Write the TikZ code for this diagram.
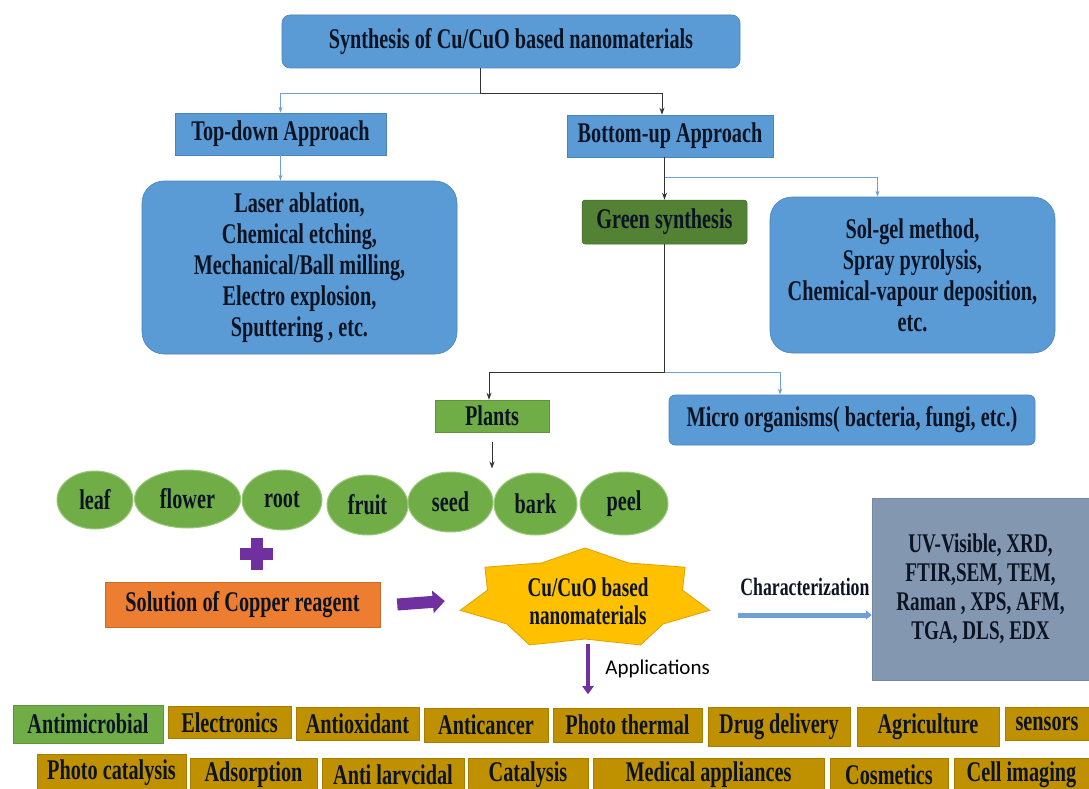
\documentclass[tikz,border=0pt]{standalone}
\usepackage{fontspec}
\setmainfont{Liberation Serif}[FakeStretch=0.71]
\newfontfamily\appfont{Carlito}
\usetikzlibrary{arrows.meta,shapes.geometric}
\definecolor{bx}{HTML}{5B9BD5}
\definecolor{bxd}{HTML}{4A84BE}
\definecolor{gdark}{HTML}{548235}
\definecolor{glight}{HTML}{70AD47}
\definecolor{gedge}{HTML}{9CC97E}
\definecolor{org}{HTML}{ED7D31}
\definecolor{gold}{HTML}{BF9000}
\definecolor{golde}{HTML}{A67D00}
\definecolor{gry}{HTML}{8497B0}
\definecolor{stary}{HTML}{FFC000}
\definecolor{stard}{HTML}{E0A000}
\definecolor{purp}{HTML}{7030A0}
\definecolor{txt}{HTML}{0C1424}
\definecolor{lnk}{HTML}{333333}
\definecolor{lblue}{HTML}{6FA0D6}
\tikzset{
  base/.style={font=\bfseries\fontsize{28.5}{31}\selectfont, text=txt, inner sep=0pt, align=center},
  bbox/.style={base, rectangle, fill=bx, draw=bxd, line width=0.6pt},
  rbox/.style={bbox, rounded corners=22pt},
  gbox/.style={base, rectangle, fill=gdark, draw=gdark!80!black, line width=0.5pt, rounded corners=3pt},
  pbox/.style={base, rectangle, fill=glight, draw=glight!85!black, line width=0.5pt},
  obox/.style={base, rectangle, fill=org, draw=org!85!black, line width=0.5pt},
  abox/.style={base, rectangle, fill=gold, draw=golde, line width=0.5pt, minimum height=34pt},
  agbox/.style={base, rectangle, fill=glight, draw=glight!85!black, line width=0.5pt},
  ybox/.style={base, rectangle, fill=gry, draw=gry!90!black, line width=0.5pt, font=\bfseries\fontsize{27}{29}\selectfont},
  part/.style={base, ellipse, fill=glight, draw=gedge, line width=1pt},
  blk/.style={draw=lnk, line width=0.9pt, -{Stealth[length=7pt,width=5pt]}},
  bln/.style={draw=lblue, line width=0.8pt, -{Stealth[length=6pt,width=4pt]}},
  starsty/.style={fill=stary, draw=stard, line width=0.8pt},
  startext/.style={base, font=\bfseries\fontsize{27}{28}\selectfont, minimum width=200pt, minimum height=86pt},
}
\begin{document}
\begin{tikzpicture}[x=1pt,y=-1pt]
\useasboundingbox (0,0) rectangle (1089,789);
\fill[white] (0,0) rectangle (1089,789);

% top level
\node[bbox, rounded corners=8pt, minimum width=458pt, minimum height=53pt] (title) at (511,41.5) {Synthesis of Cu/CuO based nanomaterials};
\node[bbox, minimum width=211pt, minimum height=42pt] (td) at (280.5,134) {Top-down Approach};
\node[bbox, minimum width=206pt, minimum height=42pt] (bu) at (670,136) {Bottom-up Approach};
\node[rbox, minimum width=315pt, minimum height=173pt] (lb) at (299.5,267.5) {Laser ablation,\\Chemical etching,\\Mechanical/Ball milling,\\Electro explosion,\\Sputtering , etc.};
\node[gbox, minimum width=165pt, minimum height=44pt] (gs) at (664.5,222) {Green synthesis};
\node[rbox, minimum width=285pt, minimum height=156pt] (rb) at (912.5,275) {Sol-gel method,\\Spray pyrolysis,\\Chemical-vapour deposition,\\etc.};
\node[pbox, minimum width=114pt, minimum height=32pt] (pl) at (492,416) {Plants};
\node[bbox, rounded corners=6pt, minimum width=366pt, minimum height=50pt] (mo) at (852,420) {Micro organisms( bacteria, fungi, etc.)};

% connectors top
\coordinate (t1) at (480,93);
\draw[blk] (t1 |- title.south) -- (t1) -| ([xshift=-8pt]bu.north);
\draw[bln] (t1) -| (td.north);
\draw[bln] (td.south) -- (td.south |- lb.north);
\draw[blk] (gs.north |- bu.south) -- (gs.north);
\coordinate (b1) at (664.5,177);
\draw[bln] (b1) -| ([xshift=-35pt]rb.north);
\coordinate (g1) at (664.5,372);
\draw[blk] (gs.south) -- (g1) -| ([xshift=-3pt]pl.north);
\draw[bln] (g1) -| ([xshift=-72pt]mo.north);

% plant parts
\node[part, minimum width=76pt, minimum height=58pt] (leaf) at (95,500) {leaf};
\node[part, minimum width=106pt, minimum height=58pt] (flower) at (187.5,499) {flower};
\node[part, minimum width=80pt, minimum height=60pt] (root) at (282,500) {root};
\node[part, minimum width=81pt, minimum height=60pt] (fruit) at (367.5,505) {fruit};
\node[part, minimum width=85pt, minimum height=60pt] (seed) at (450.5,502) {seed};
\node[part, minimum width=83pt, minimum height=62pt] (bark) at (535.5,504) {bark};
\node[part, minimum width=88pt, minimum height=63pt] (peel) at (624,503.5) {peel};
\draw[blk, shorten <=10pt, shorten >=3pt] (pl.south) -- (pl.south |- seed.north);

% plus and solution
\fill[purp] (251,538) rectangle (263,570);
\fill[purp] (240,548) rectangle (273,560);
\node[obox, minimum width=275pt, minimum height=45pt] (sol) at (242.5,604.5) {Solution of Copper reagent};

% star
\draw[starsty] ([shift={(585,599)}]90:128pt and 51pt)
  \foreach \k [evaluate=\k as \ai using {90+\k*360/7+180/7}, evaluate=\k as \ao using {90+(\k+1)*360/7}] in {0,...,6} { -- ([shift={(585,599)}]\ai:100pt and 40pt) -- ([shift={(585,599)}]\ao:128pt and 51pt) } -- cycle;
\node[startext] (nano) at (588,601) {Cu/CuO based\\nanomaterials};
\draw[purp, line width=12pt, -{Triangle[length=12pt,width=22pt]}] ([xshift=17pt]sol.east) -- ([xshift=-43pt]nano.west);

% characterization
\node[ybox, minimum width=217pt, minimum height=182pt] (chr) at (980.5,589) {UV-Visible, XRD,\\FTIR,SEM, TEM,\\Raman , XPS, AFM,\\TGA, DLS, EDX};
\coordinate (cs) at (738,615);
\draw[lblue, line width=5pt, -{Triangle[length=6pt,width=9pt]}] (cs) -- (cs -| chr.west) node[midway, base, font=\bfseries\fontsize{25}{26}\selectfont, yshift=28pt] (charlbl) {Characterization};

% applications
\draw[purp, line width=4pt, -{Triangle[length=8pt,width=11pt]}] (nano.south) -- ++(0,50) node[midway, right=12pt, font=\appfont\fontsize{21}{24}\selectfont, text=black] (applbl) {Applications};

\node[agbox, minimum width=150pt, minimum height=38pt] (a1) at (88,724) {Antimicrobial};
\node[abox, minimum width=123pt, minimum height=32pt] (a2) at (229.5,722.5) {Electronics};
\node[abox, minimum width=123pt, minimum height=33pt] (a3) at (357.5,723.5) {Antioxidant};
\node[abox, minimum width=124pt] (a4) at (486,725) {Anticancer};
\node[abox, minimum width=149pt] (a5) at (627.5,725) {Photo thermal};
\node[abox, minimum width=142pt, minimum height=39pt] (a6) at (779,726.5) {Drug delivery};
\node[abox, minimum width=142pt, minimum height=39pt] (a7) at (928,726.5) {Agriculture};
\node[abox, minimum width=84pt, minimum height=33pt] (a8) at (1047,723.5) {sensors};

\node[abox, minimum width=149pt, minimum height=38pt] (b1n) at (111.5,773) {Photo catalysis};
\node[abox, minimum width=127pt] (b2) at (253.5,775) {Adsorption};
\node[abox, minimum width=142pt] (b3) at (393,775) {Anti larvcidal};
\node[abox, minimum width=120pt] (b4) at (528,775) {Catalysis};
\node[abox, minimum width=231pt] (b5) at (708.5,775) {Medical appliances};
\node[abox, minimum width=118pt] (b6) at (889,775) {Cosmetics};
\node[abox, minimum width=135pt] (b7) at (1021.5,775) {Cell imaging};
\end{tikzpicture}
\end{document}
